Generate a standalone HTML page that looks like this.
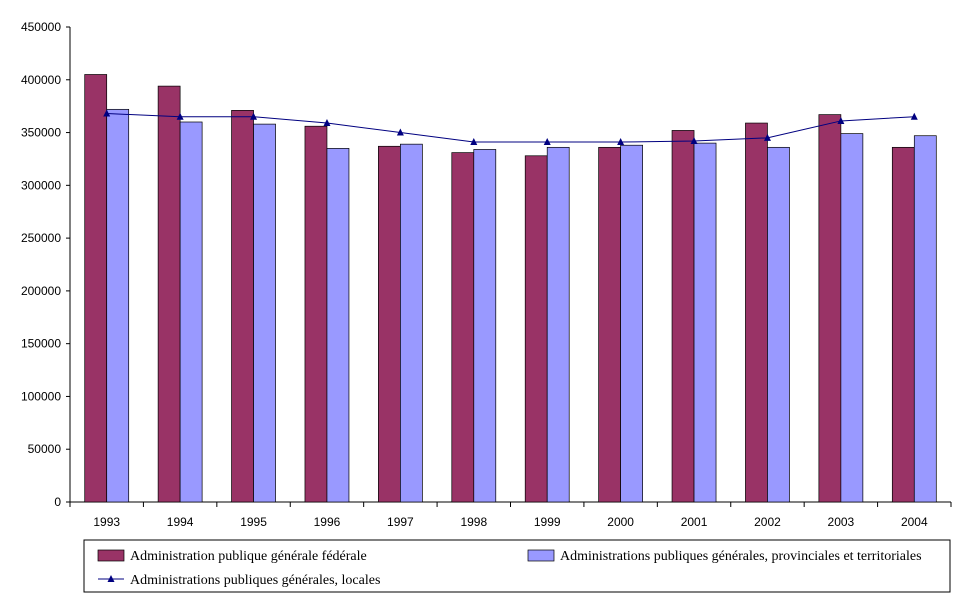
<!DOCTYPE html>
<html><head><meta charset="utf-8"><style>
body{margin:0;background:#fff;font-family:"Liberation Sans",sans-serif;}
svg text{font-family:"Liberation Sans",sans-serif;font-size:12px;fill:#000}
svg text.lg{font-family:"Liberation Serif",serif;font-size:14px}
</style></head><body>
<svg id="chart" width="968" height="602" xmlns="http://www.w3.org/2000/svg"></svg>
<script>
const categories=["1993","1994","1995","1996","1997","1998","1999","2000","2001","2002","2003","2004"];
const federal=[405000,394000,371000,356000,337000,331000,328000,336000,352000,359000,367000,336000];
const provincial=[372000,360000,358000,335000,339000,334000,336000,338000,340000,336000,349000,347000];
const local=[368000,365000,365000,359000,350000,341000,341000,341000,342000,345000,361000,365000];
const yTicks=[0,50000,100000,150000,200000,250000,300000,350000,400000,450000];
const NS="http://www.w3.org/2000/svg";
const svg=document.getElementById('chart');
const x0=70,x1=951,yTop=27,yBot=502,yMax=450000;
const cw=(x1-x0)/categories.length;
const y=v=>yBot-v/yMax*(yBot-yTop);
const xc=i=>x0+cw*(i+0.5);
function mk(tag,attrs,parent){const e=document.createElementNS(NS,tag);for(const k in attrs)e.setAttribute(k,attrs[k]);(parent||svg).appendChild(e);return e;}
let ax=mk('line',{x1:x0,y1:yTop,x2:x0,y2:yBot,stroke:'#000'});


ax=mk('line',{x1:x0,y1:yBot,x2:x1,y2:yBot,stroke:'#000'});


yTicks.forEach(t=>{
  mk('line',{x1:x0-4,y1:y(t),x2:x0,y2:y(t),stroke:'#000'});
  const tx=mk('text',{x:x0-9,y:y(t)+4,'text-anchor':'end'});tx.textContent=t;
  
  
});
for(let i=0;i<=categories.length;i++){mk('line',{x1:x0+cw*i,y1:yBot,x2:x0+cw*i,y2:yBot+5,stroke:'#000'});}
categories.forEach((c,i)=>{
  const tx=mk('text',{x:xc(i),y:yBot+24,'text-anchor':'middle'});tx.textContent=c;
  
  
  let b=mk('rect',{x:xc(i)-22,y:y(federal[i]),width:22,height:yBot-y(federal[i]),fill:'#993366',stroke:'#000','stroke-width':0.7});
  
  
  b=mk('rect',{x:xc(i),y:y(provincial[i]),width:22,height:yBot-y(provincial[i]),fill:'#9999ff',stroke:'#000','stroke-width':0.7});
  
  
});
const pl=mk('polyline',{points:local.map((v,i)=>xc(i)+','+y(v)).join(' '),fill:'none',stroke:'#000080','stroke-width':1});


local.forEach((v,i)=>{const p=mk('polygon',{points:`${xc(i)},${y(v)-4} ${xc(i)-3.5},${y(v)+3} ${xc(i)+3.5},${y(v)+3}`,fill:'#000080'});
  
  });
const lg=mk('g',{});


mk('rect',{x:84,y:540,width:866,height:52,fill:'#fff',stroke:'#000'},lg);
mk('rect',{x:98,y:550,width:26,height:11,fill:'#993366',stroke:'#000','stroke-width':0.7},lg);
let t=mk('text',{x:130,y:560,class:'lg'},lg);t.textContent='Administration publique générale fédérale';


mk('rect',{x:528,y:550,width:26,height:11,fill:'#9999ff',stroke:'#000','stroke-width':0.7},lg);
t=mk('text',{x:560,y:560,class:'lg'},lg);t.textContent='Administrations publiques générales, provinciales et territoriales';


mk('line',{x1:98,y1:579,x2:124,y2:579,stroke:'#000080'},lg);
mk('polygon',{points:'111,575 107.5,582 114.5,582',fill:'#000080'},lg);
t=mk('text',{x:130,y:584,class:'lg'},lg);t.textContent='Administrations publiques générales, locales';


</script>
</body></html>
